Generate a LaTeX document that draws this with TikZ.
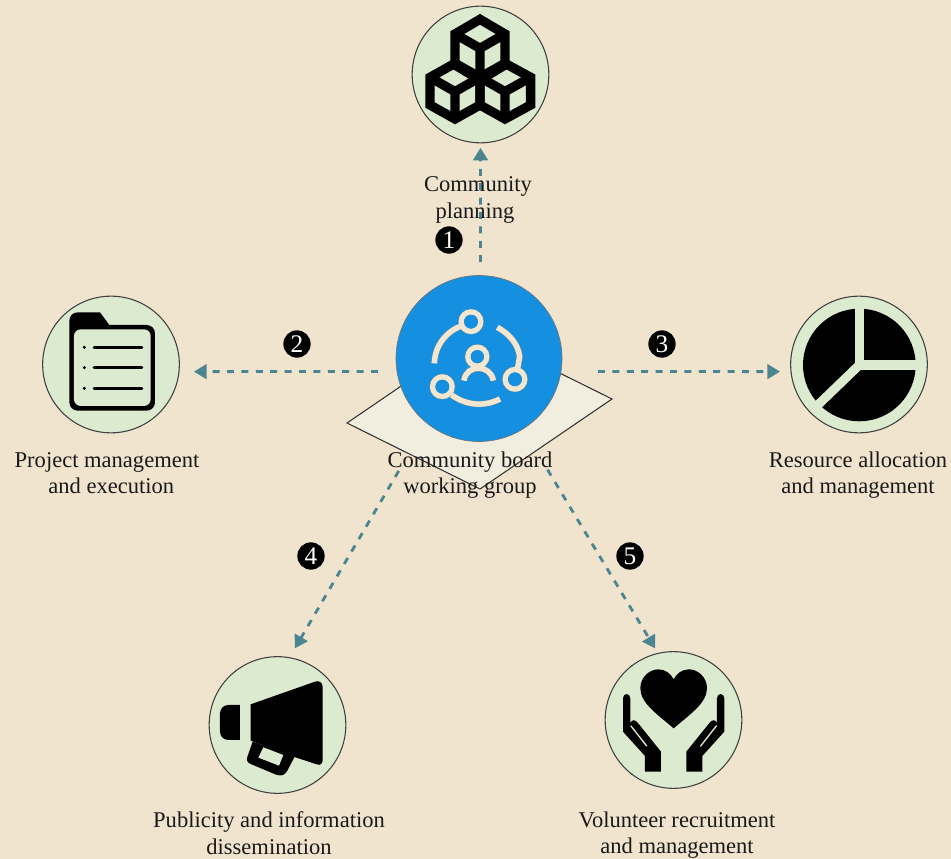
\documentclass[tikz,border=0pt]{standalone}
\usepackage{fontspec}
\setmainfont{Liberation Serif}
\usetikzlibrary{arrows.meta}
\definecolor{bgc}{HTML}{F1E4CF}
\definecolor{leaf}{HTML}{DCEAD0}
\definecolor{hubblue}{HTML}{1590E0}
\definecolor{paper}{HTML}{F2EEDF}
\definecolor{teal}{HTML}{4A8590}
\definecolor{cream}{HTML}{F0E6D2}
\tikzset{
  iconcircle/.style={circle,draw=black!75,fill=leaf,line width=0.8pt,minimum size=102.5pt,inner sep=0pt,outer sep=0pt},
  hubcircle/.style={circle,draw=black!55,fill=hubblue,line width=0.5pt,minimum size=124.5pt,inner sep=0pt,outer sep=0pt},
  caption/.style={align=center,inner sep=0pt,text=black!90,font=\fontsize{16.9}{19.9}\selectfont},
  badge/.style={circle,fill=black,text=white,minimum size=20.5pt,inner sep=0pt,outer sep=0pt,font=\fontsize{19}{19}\selectfont},
  flow/.style={draw=teal,line width=2.1pt,dash pattern=on 5.2pt off 5.6pt,-{Triangle[length=9.5pt,width=11pt,fill=teal]}},
  hubline/.style={draw=cream,line width=4.1pt,line cap=butt},
  hubedge/.style={draw=black!45,line width=4.6pt,line cap=butt},
  cubeline/.style={draw=black,line width=7pt,line join=miter,miter limit=4}
}
\begin{document}
\begin{tikzpicture}[x=0.75pt,y=-0.75pt]
\useasboundingbox (0,0) rectangle (951,859);
\fill[bgc] (0,0) rectangle (951,859);
% board
\draw[fill=paper,draw=black!80,line width=0.8pt,line join=miter] (347,423) -- (479,333) -- (612,399) -- (480,489) -- cycle;
% nodes
\node[hubcircle] (hub) at (479,358.5) {};
\node[iconcircle] (plan) at (480.5,74.5) {};
\node[iconcircle] (proj) at (111,364.5) {};
\node[iconcircle] (res) at (859,364.5) {};
\node[iconcircle] (pub) at (277.5,725) {};
\node[iconcircle] (vol) at (673.5,720) {};
% connectors
\draw[flow,shorten <=10pt,shorten >=3.7pt] (hub.89.3) -- (plan.270);
\draw[flow,shorten <=14.3pt,shorten >=11.3pt] (hub.189) -- (proj.-6);
\draw[flow,shorten <=27.8pt,shorten >=8.3pt] (hub.-9) -- (res.186);
\draw[flow,shorten <=41.7pt,shorten >=8.2pt] (hub.231) -- (pub.80);
\draw[flow,shorten <=35.7pt,shorten >=4.4pt] (hub.-58.4) -- (vol.103);
% hub icon
\begin{scope}[shift={(340,260)},scale=0.3333]
  \foreach \st in {hubedge,hubline}{
    \draw[\st] (367,197) .. controls (320,213) and (285,255) .. (283,310);
    \draw[\st] (472,202) .. controls (510,222) and (535,255) .. (539,290) -- (532,330);
    \draw[\st] (335,405) .. controls (380,438) and (435,440) .. (480,417);
    \draw[\st] (393,185) circle (29);
    \draw[\st] (525,358) circle (29);
    \draw[\st] (307,380) circle (29);
    \draw[\st] (412,290) circle (28);
    \draw[\st] (372,362) .. controls (378,312) and (452,312) .. (460,362);
  }
  \fill[hubblue] (393,185) circle (21);
  \fill[hubblue] (525,358) circle (21);
  \fill[hubblue] (307,380) circle (21);
  \fill[hubblue] (412,290) circle (20);
\end{scope}
% cubes
\begin{scope}[shift={(400,0)},scale=0.3333]
  \draw[cubeline] (240,58) -- (315,102) -- (315,195) -- (240,240) -- (165,195) -- (165,102) -- cycle;
  \draw[cubeline] (165,102) -- (240,145) -- (315,102) (240,145) -- (240,240);
  \draw[cubeline] (165,190) -- (90,232) -- (90,315) -- (165,357) -- (240,315) -- (240,232) -- cycle;
  \draw[cubeline] (90,232) -- (165,275) -- (240,232) (165,275) -- (165,357);
  \draw[cubeline] (315,190) -- (240,232) -- (240,315) -- (315,357) -- (392,315) -- (392,232) -- cycle;
  \draw[cubeline] (240,232) -- (315,275) -- (392,232) (315,275) -- (315,357);
\end{scope}
% folder
\begin{scope}[shift={(30,290)},scale=0.3333]
  \fill[black] (118,92) .. controls (118,78) and (129,67) .. (143,67) -- (210,67) -- (238,105) -- (350,105) .. controls (364,105) and (375,116) .. (375,130) -- (375,337) .. controls (375,351) and (364,362) .. (350,362) -- (143,362) .. controls (129,362) and (118,351) .. (118,337) -- cycle;
  \fill[leaf,rounded corners=5pt] (132,348) -- (132,118) -- (362,118) -- (362,348) -- cycle;
  \foreach \yy in {172,233,295}{
    \draw[black,line width=2.1pt,line cap=round] (192,\yy) -- (336,\yy);
    \fill[black] (163,\yy) circle (5);
  }
\end{scope}
% pie
\begin{scope}[shift={(780,290)},scale=0.3333]
  \fill[black] (238,225) circle (169);
  \draw[leaf,line width=6.8pt] (238,40) -- (238,225) -- (425,225);
  \draw[leaf,line width=6.8pt] (238,225) -- (100,358);
\end{scope}
% megaphone
\begin{scope}[shift={(200,650)},scale=0.3333]
  \fill[black] (152,163) -- (345,95) .. controls (358,90) and (368,98) .. (368,112) -- (368,330) .. controls (368,342) and (360,347) .. (350,343) -- (280,320) -- (152,272) -- cycle;
  \fill[black] (158,275) -- (143,318) .. controls (138,330) and (142,338) .. (152,342) -- (228,374) .. controls (245,380) and (255,375) .. (262,362) -- (285,318) -- cycle;
  \fill[leaf] (190,292) -- (250,315) -- (237,347) -- (175,323) -- cycle;
  \fill[black] (120,165) -- (85,165) .. controls (71,165) and (60,176) .. (60,190) -- (60,245) .. controls (60,259) and (71,270) .. (85,270) -- (120,270) -- cycle;
\end{scope}
% hands and heart
\begin{scope}[shift={(595,650)},scale=0.3333]
  \fill[black] (236,235) .. controls (190,195) and (136,160) .. (136,115) .. controls (136,80) and (165,58) .. (190,58) .. controls (212,58) and (228,72) .. (236,88) .. controls (244,72) and (260,58) .. (282,58) .. controls (307,58) and (336,80) .. (336,115) .. controls (336,160) and (282,195) .. (236,235) -- cycle;
  \foreach \mir in {1,-1}{
    \begin{scope}[shift={(236,0)},xscale=\mir]
      \fill[black] (-152,145) .. controls (-152,128) and (-130,128) .. (-130,145) -- (-130,220) .. controls (-126,208) and (-116,208) .. (-108,218) -- (-38,305) -- (-38,365) -- (-86,365) -- (-86,318) -- (-152,245) -- cycle;
      \draw[leaf,line width=1pt,line cap=round] (-128,228) -- (-81,288);
    \end{scope}
  }
\end{scope}
% captions
\node[caption] (capplan) at (478,200) {Community\\\hspace*{-4.5pt}planning};
\node[caption] (caphub) at (470,475) {Community board\\working group};
\node[caption] (capproj) at (107,473) {Project management\\\hspace*{6.5pt}and execution};
\node[caption] (capres) at (858,475) {Resource allocation\\and management};
\node[caption] (cappub) at (269,833) {Publicity and information\\dissemination};
\node[caption] (capvol) at (677,835) {Volunteer recruitment\\and management};
% badges
\node[badge] (b1) at (449,240) {1};
\node[badge] (b2) at (297,344) {2};
\node[badge] (b3) at (662,344) {3};
\node[badge] (b4) at (311,556) {4};
\node[badge] (b5) at (630,556) {5};
\end{tikzpicture}
\end{document}
